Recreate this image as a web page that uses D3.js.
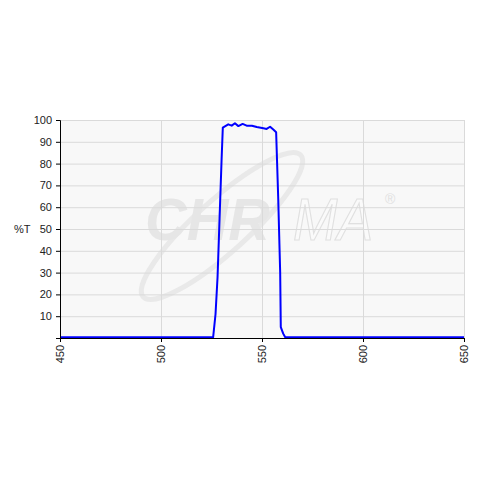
<!DOCTYPE html>
<html>
<head>
<meta charset="utf-8">
<script src="https://cdn.jsdelivr.net/npm/d3@7"></script>
<style>
  body { margin: 0; background: #fff; }
  svg { font-family: "Liberation Sans", Arial, sans-serif; }
</style>
</head>
<body>
<div id="chart"></div>
<script>
// transmission curve
var wavelength = [450, 500, 525.8, 527, 528, 529, 530, 530.6, 533.3, 535, 536.6, 538.3, 540.4, 542.4, 545, 547.4, 550.7, 552.3, 554, 555.6, 557, 558, 559, 559.3, 560.5, 561.5, 600, 650];
var transmission = [0.3, 0.3, 0.3, 11, 28, 55, 82, 96.5, 98, 97.4, 98.5, 97.2, 98.2, 97.4, 97.4, 96.8, 96.2, 95.9, 96.9, 95.6, 94.4, 65, 30, 5, 2, 0.3, 0.3, 0.3];
var xTicks = [450, 500, 550, 600, 650];
var yTicks = [10, 20, 30, 40, 50, 60, 70, 80, 90, 100];

var width = 480, height = 480;
var margin = {top: 120, right: 16, bottom: 142, left: 60};

var svg = d3.select("#chart").append("svg")
    .attr("width", width)
    .attr("height", height);

var x = d3.scaleLinear().domain([450, 650]).range([margin.left, width - margin.right]);
var y = d3.scaleLinear().domain([0, 100]).range([height - margin.bottom, margin.top]);

// plot background
svg.append("rect")
    .attr("x", x(450)).attr("y", y(100))
    .attr("width", x(650) - x(450)).attr("height", y(0) - y(100))
    .attr("fill", "#f8f8f8");

// watermark
var wm = svg.append("g");
wm.append("ellipse")
    .attr("cx", 222).attr("cy", 226)
    .attr("rx", 106).attr("ry", 26)
    .attr("transform", "rotate(-42,222,226)")
    .attr("fill", "none")
    .attr("stroke", "#e9e9e9")
    .attr("stroke-width", 5);
wm.append("text")
    .attr("x", 145).attr("y", 240)
    .attr("font-size", 60).attr("font-weight", "bold").attr("font-style", "italic")
    .attr("textLength", 125).attr("lengthAdjust", "spacingAndGlyphs")
    .attr("fill", "#e6e6e6")
    .text("CHR");
wm.append("text")
    .attr("x", 293).attr("y", 240)
    .attr("font-size", 60).attr("font-style", "italic")
    .attr("textLength", 80).attr("lengthAdjust", "spacingAndGlyphs")
    .attr("fill", "#fafafa").attr("stroke", "#e0e0e0").attr("stroke-width", 1.2)
    .text("MA");
wm.append("text")
    .attr("x", 385).attr("y", 204)
    .attr("font-size", 14)
    .attr("fill", "#e0e0e0")
    .text("®");

// grid
svg.append("g").selectAll("line.h")
    .data(yTicks).enter().append("line")
    .attr("x1", x(450)).attr("x2", x(650))
    .attr("y1", function(d) { return y(d) + 0.5; })
    .attr("y2", function(d) { return y(d) + 0.5; })
    .attr("stroke", "#dadada");
svg.append("g").selectAll("line.v")
    .data(xTicks.slice(1)).enter().append("line")
    .attr("y1", y(0)).attr("y2", y(100))
    .attr("x1", function(d) { return x(d) + 0.5; })
    .attr("x2", function(d) { return x(d) + 0.5; })
    .attr("stroke", "#dadada");

// curve
var line = d3.line()
    .x(function(d, i) { return x(wavelength[i]); })
    .y(function(d) { return y(d); });
svg.append("path")
    .datum(transmission)
    .attr("d", line)
    .attr("fill", "none")
    .attr("stroke", "#0000ff")
    .attr("stroke-width", 2)
    .attr("stroke-linejoin", "round");

// axes
var xAxis = svg.append("g")
    .attr("transform", "translate(0," + y(0) + ")")
    .call(d3.axisBottom(x).tickValues(xTicks).tickSize(4).tickFormat(d3.format("d")));
xAxis.selectAll("text")
    .attr("transform", "rotate(-90)")
    .attr("x", -7).attr("y", 0).attr("dy", "0.35em")
    .attr("text-anchor", "end");

var yAxis = svg.append("g")
    .attr("transform", "translate(" + x(450) + ",0)")
    .call(d3.axisLeft(y).tickValues(yTicks).tickSize(4).tickFormat(d3.format("d")));

[xAxis, yAxis].forEach(function(a) {
    a.select(".domain").attr("stroke", "#000");
    a.selectAll(".tick line").attr("stroke", "#000");
    a.selectAll("text").attr("font-size", 11).attr("fill", "#222")
        .attr("font-family", "'Liberation Sans', Arial, sans-serif");
});
yAxis.selectAll("text").attr("x", -8);

svg.append("text")
    .attr("x", 14).attr("y", 233)
    .attr("font-size", 11).attr("fill", "#222")
    .text("%T");
</script>
</body>
</html>
